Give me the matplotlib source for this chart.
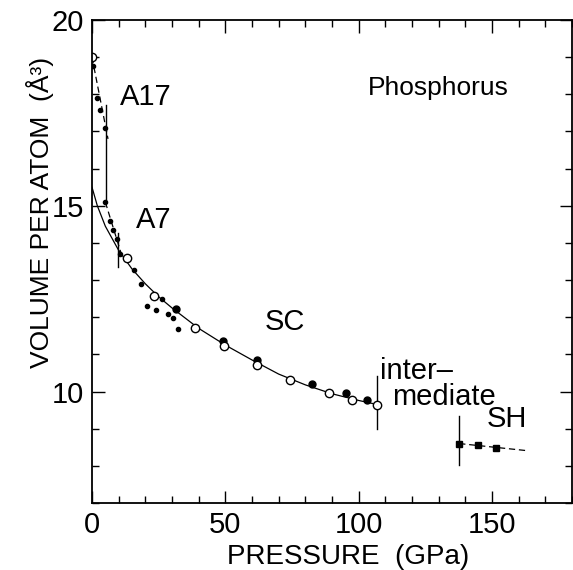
import matplotlib
matplotlib.use("Agg")
import matplotlib.pyplot as plt
from matplotlib.ticker import MultipleLocator

plt.rcParams['font.family'] = ['Liberation Sans', 'DejaVu Sans']

# A17 phase
a17_x = [0.0, 0.5, 2.0, 3.0, 5.0]
a17_y = [19.0, 18.75, 17.9, 17.58, 17.1]
a17_line_x = [0.0, 6.0]
a17_line_y = [19.0, 16.8]
# A7 phase
a7_x = [5.0, 6.7, 8.0, 9.2, 10.5]
a7_y = [15.09, 14.58, 14.35, 14.1, 13.7]
a7_line_x = [5.0, 11.0]
a7_line_y = [15.1, 13.7]
# SC phase
sc_small_x = [15.7, 18.4, 26.4, 20.5, 24.0, 28.4, 30.3, 32.1]
sc_small_y = [13.28, 12.9, 12.49, 12.29, 12.2, 12.1, 11.98, 11.69]
sc_big_x = [31.5, 49.0, 61.7, 82.5, 95.2, 103.3]
sc_big_y = [12.22, 11.35, 10.84, 10.19, 9.96, 9.77]
sc_open_x = [0.0, 13.0, 23.4, 38.7, 49.4, 61.7, 74.2, 88.7, 97.4, 107.0]
sc_open_y = [19.0, 13.6, 12.56, 11.71, 11.22, 10.72, 10.3, 9.96, 9.77, 9.65]
# fitted curve
fit_x = [0, 2, 5, 10, 15, 20, 25, 30, 40, 50, 60, 70, 80, 90, 100, 107]
fit_y = [15.5, 15.0, 14.45, 13.8, 13.3, 12.9, 12.55, 12.25, 11.7, 11.25, 10.85,
         10.47, 10.18, 9.94, 9.76, 9.65]
# SH phase
sh_x = [137.7, 144.7, 151.5]
sh_y = [8.6, 8.57, 8.49]
sh_line_x = [137.7, 163.0]
sh_line_y = [8.6, 8.41]
# phase boundaries (x, ymin, ymax)
bound_x = [5.2, 9.9, 107.0, 137.5]
bound_lo = [15.1, 13.36, 8.98, 8.01]
bound_hi = [17.7, 14.27, 10.43, 9.34]

fig = plt.figure(figsize=(5.73, 5.70), dpi=100)
ax = fig.add_axes([92/573, 1-503/570, 480/573, 483/570])

ax.plot(fit_x, fit_y, color='black', lw=0.9)
ax.plot(a17_line_x, a17_line_y, color='black', lw=0.9, ls=(0, (5, 3)))
ax.plot(a7_line_x, a7_line_y, color='black', lw=0.9, ls=(0, (5, 3)))
ax.plot(sh_line_x, sh_line_y, color='black', lw=0.9, ls=(0, (5, 3)))
for bx, lo, hi in zip(bound_x, bound_lo, bound_hi):
    ax.plot([bx, bx], [lo, hi], color='black', lw=1.0)

ax.plot(a17_x, a17_y, 'o', color='black', ms=3)
ax.plot(a7_x, a7_y, 'o', color='black', ms=3)
ax.plot(sc_small_x, sc_small_y, 'o', color='black', ms=3)
ax.plot(sc_big_x, sc_big_y, 'o', color='black', ms=5)
ax.plot(sc_open_x, sc_open_y, 'o', mfc='white', mec='black', mew=1.0, ms=6)
ax.plot(sh_x, sh_y, 's', color='black', ms=4.5)

ax.set_xlim(0, 180)
ax.set_ylim(7, 20)
ax.xaxis.set_minor_locator(MultipleLocator(10))
ax.yaxis.set_minor_locator(MultipleLocator(1))
ax.set_xticks([0, 50, 100, 150])
ax.set_yticks([10, 15, 20])
ax.tick_params(which='both', direction='in', top=True, right=True, labelsize=21,
               width=1.0)
ax.tick_params(which='major', length=9, pad=6)
ax.tick_params(which='minor', length=5)
for s in ax.spines.values():
    s.set_linewidth(1.3)

fig.text(348/573, 1-564/570, 'PRESSURE  (GPa)', fontsize=20,
         ha='center', va='baseline')
fig.text(40/573, 1-212/570, 'VOLUME PER ATOM  (Å³)', rotation=90, fontsize=19,
         ha='center', va='center')

ax.text(129.7, 18.17, 'Phosphorus', fontsize=19, ha='center', va='center')
ax.text(20.2, 17.92, 'A17', fontsize=21, ha='center', va='center')
ax.text(23.2, 14.62, 'A7', fontsize=21, ha='center', va='center')
ax.text(72.2, 11.88, 'SC', fontsize=21, ha='center', va='center')
ax.text(108, 10.55, 'inter–', fontsize=21, ha='left', va='center')
ax.text(112.5, 9.85, 'mediate', fontsize=21, ha='left', va='center')
ax.text(155.6, 9.25, 'SH', fontsize=21, ha='center', va='center')

fig.savefig('out.png', dpi=100)
